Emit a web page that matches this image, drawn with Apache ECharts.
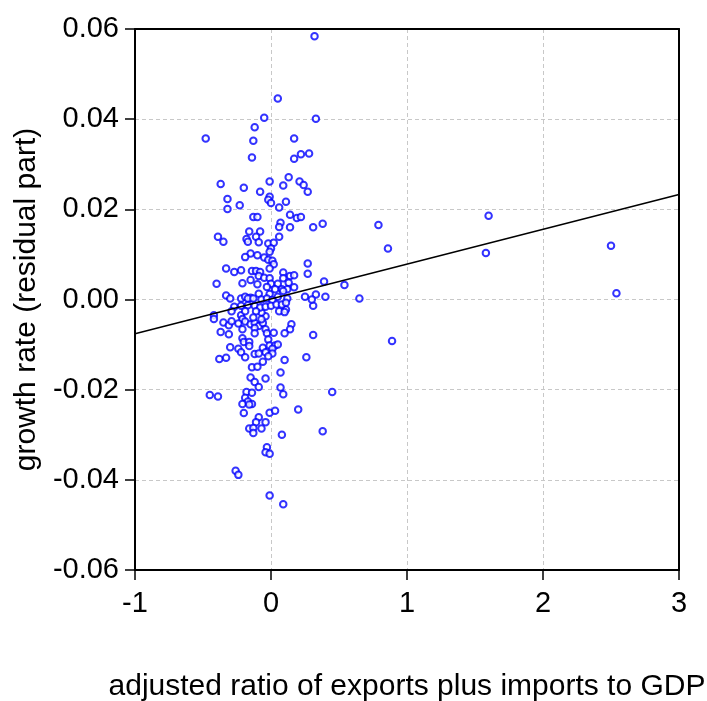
<!DOCTYPE html>
<html>
<head>
<meta charset="utf-8">
<script src="https://cdn.jsdelivr.net/npm/echarts@6/dist/echarts.min.js"></script>
<style>
  html, body { margin: 0; padding: 0; background: #fff; }
  #chart { width: 707px; height: 701px; }
</style>
</head>
<body>
<div id="chart"></div>
<script>
  'use strict'

  /* data */
  var xVals = [
    0.32, 0.05, -0.05, 0.33, -0.12, -0.48, -0.13, 0.17, -0.14, 0.17, 0.22, 0.28,
    -0.37, -0.20, -0.01, 0.09, 0.13, 0.21, 0.24, 0.27, -0.08, -0.32, -0.32, -0.23,
    -0.01, -0.02, 0.00, 0.11, 0.06, -0.13, -0.10, 0.14, 0.19, 0.22, 0.07, 0.06,
    0.14, 0.31, 0.38, -0.39, -0.35, -0.16, -0.08, -0.18, -0.17, -0.11, -0.09, 0.06,
    -0.02, 0.02, 0.00, -0.01, -0.15, -0.19, -0.10, -0.05, -0.02, 0.01, 0.02, -0.33,
    -0.27, -0.22, -0.14, -0.11, -0.08, -0.01, -0.09, 0.09, 0.14, 0.17, 0.27, 0.27,
    -0.40, -0.21, -0.15, -0.10, -0.05, -0.01, 0.00, -0.03, 0.09, 0.05, 0.13, 0.08,
    0.12, 0.17, 0.39, 0.54, -0.33, -0.30, -0.22, -0.19, -0.15, -0.09, -0.01, 0.05,
    0.12, 0.25, 0.33, 0.40, 0.31, -0.27, 0.11, 0.06, -0.04, -0.07, -0.42, -0.42,
    -0.29, -0.22, -0.21, -0.24, -0.35, -0.31, -0.19, -0.15, -0.12, -0.09, -0.06, -0.21,
    -0.12, -0.12, -0.04, -0.03, 0.02, 0.15, 0.14, 0.10, -0.37, -0.31, 0.31, -0.21,
    -0.20, -0.16, -0.02, -0.30, -0.24, -0.22, -0.16, -0.06, -0.01, 0.03, 0.05, 0.01,
    -0.04, 0.01, -0.12, -0.09, -0.02, -0.38, -0.33, -0.19, -0.06, 0.10, 0.26, -0.14,
    -0.10, 0.07, -0.15, -0.04, -0.12, -0.09, 0.07, 0.09, 0.45, -0.45, -0.39, -0.18,
    -0.14, -0.19, -0.17, -0.21, -0.14, -0.16, -0.20, -0.01, 0.03, 0.20, -0.09, -0.11,
    -0.04, -0.16, -0.13, -0.07, 0.38, -0.13, 0.08, -0.03, -0.04, -0.01, -0.26, -0.24,
    -0.01, 0.09, 0.79, 0.86, 0.30, 0.65, 0.89, 1.60, 1.58, 2.50, 2.54,
    0.03, 0.09, -0.17, -0.13, -0.07, -0.03, 0.01, -0.22, -0.17, -0.12, -0.08, -0.04,
    0.00, 0.04, 0.08, 0.11, -0.19, -0.11, 0.10, -0.29, -0.13, -0.07
  ];
  var yVals = [
    0.0584, 0.0446, 0.0403, 0.0401, 0.0382, 0.0357, 0.0352, 0.0357, 0.0315, 0.0312, 0.0322, 0.0324,
    0.0256, 0.0248, 0.0262, 0.0253, 0.0271, 0.0262, 0.0254, 0.0239, 0.0239, 0.0223, 0.0201, 0.0209,
    0.0228, 0.0221, 0.0214, 0.0217, 0.0204, 0.0183, 0.0183, 0.0188, 0.0181, 0.0183, 0.0170, 0.0161,
    0.0160, 0.0160, 0.0168, 0.0139, 0.0128, 0.0151, 0.0151, 0.0134, 0.0128, 0.0139, 0.0127, 0.0139,
    0.0124, 0.0126, 0.0113, 0.0106, 0.0102, 0.0094, 0.0098, 0.0093, 0.0088, 0.0086, 0.0078, 0.0069,
    0.0061, 0.0065, 0.0063, 0.0063, 0.0061, 0.0069, 0.0052, 0.0060, 0.0052, 0.0054, 0.0080, 0.0057,
    0.0035, 0.0036, 0.0043, 0.0034, 0.0048, 0.0047, 0.0035, 0.0028, 0.0047, 0.0035, 0.0037, 0.0023,
    0.0023, 0.0027, 0.0040, 0.0032, 0.0009, 0.0002, 0.0002, 0.0006, 0.0004, 0.0013, 0.0012, 0.0006,
    0.0002, 0.0006, 0.0011, 0.0006, -0.0014, -0.0016, -0.0022, -0.0026, -0.0037, -0.0029, -0.0035, -0.0043,
    -0.0026, -0.0035, -0.0043, -0.0053, -0.0051, -0.0057, -0.0049, -0.0055, -0.0052, -0.0059, -0.0052, -0.0066,
    -0.0063, -0.0075, -0.0066, -0.0075, -0.0074, -0.0055, -0.0066, -0.0075, -0.0072, -0.0077, -0.0079, -0.0086,
    -0.0094, -0.0094, -0.0089, -0.0106, -0.0109, -0.0117, -0.0103, -0.0107, -0.0102, -0.0102, -0.0100, -0.0109,
    -0.0117, -0.0120, -0.0121, -0.0120, -0.0126, -0.0132, -0.0129, -0.0128, -0.0138, -0.0134, -0.0128, -0.0150,
    -0.0149, -0.0162, -0.0173, -0.0175, -0.0183, -0.0194, -0.0195, -0.0210, -0.0205, -0.0212, -0.0215, -0.0205,
    -0.0207, -0.0218, -0.0226, -0.0232, -0.0232, -0.0233, -0.0252, -0.0251, -0.0247, -0.0244, -0.0261, -0.0272,
    -0.0272, -0.0286, -0.0285, -0.0286, -0.0292, -0.0296, -0.0300, -0.0328, -0.0339, -0.0342, -0.0380, -0.0389,
    -0.0435, -0.0454, 0.0165, 0.0113, 0.0000, 0.0002, -0.0092, 0.0186, 0.0103, 0.0119, 0.0014,
    0.0023, 0.0019, 0.0002, 0.0002, 0.0000, 0.0002, -0.0001, -0.0014, -0.0013, -0.0014, -0.0018, -0.0016,
    -0.0014, -0.0011, -0.0011, -0.0007, -0.0026, -0.0026, -0.0028, -0.0048, -0.0040, -0.0044
  ];

  /* fitted line end points */
  var fitX = [-1, 3];
  var fitY = [-0.0076, 0.0233];

  /* axis ticks */
  var xTicks = { min: -1, max: 3, step: 1 };
  var yTicks = { min: -0.06, max: 0.06, step: 0.02 };

  var points = xVals.map(function (x, i) { return [x, yVals[i]]; });
  var fitLine = fitX.map(function (x, i) { return [x, fitY[i]]; });

  var font = "'Liberation Sans', Arial, Helvetica, sans-serif";
  var frame = { show: true, onZero: false, lineStyle: { color: '#000', width: 2 } };
  var grid = { show: true, lineStyle: { color: '#c8c8c8', type: [4, 3], width: 1 } };

  var chart = echarts.init(document.getElementById('chart'), null, { renderer: 'canvas' });
  var option = {
    animation: false,
    backgroundColor: '#fff',
    grid: {
      left: 135,
      right: 28,
      top: 29,
      bottom: 131,
      containLabel: false,
      outerBoundsMode: 'none'
    },
    xAxis: [{
      type: 'value',
      min: xTicks.min,
      max: xTicks.max,
      interval: xTicks.step,
      name: 'adjusted ratio of exports plus imports to GDP',
      nameLocation: 'middle',
      nameGap: 102,
      nameTextStyle: { fontFamily: font, fontSize: 30, color: '#000' },
      axisLine: frame,
      axisTick: { show: true, inside: false, length: 10, lineStyle: { color: '#000', width: 1.5 } },
      axisLabel: {
        fontFamily: font, fontSize: 29, color: '#000', margin: 19,
        formatter: function (v) { return String(Math.round(v)); }
      },
      splitLine: grid
    }, {
      type: 'value',
      position: 'top',
      min: xTicks.min,
      max: xTicks.max,
      axisLine: frame,
      axisTick: { show: false },
      axisLabel: { show: false },
      splitLine: { show: false }
    }],
    yAxis: [{
      type: 'value',
      min: yTicks.min,
      max: yTicks.max,
      interval: yTicks.step,
      name: 'growth rate (residual part)',
      nameLocation: 'middle',
      nameGap: 90,
      nameTextStyle: { fontFamily: font, fontSize: 30, color: '#000' },
      axisLine: frame,
      axisTick: { show: true, inside: false, length: 10, lineStyle: { color: '#000', width: 1.5 } },
      axisLabel: {
        fontFamily: font, fontSize: 29, color: '#000', margin: 16,
        formatter: function (v) { return v.toFixed(2); }
      },
      splitLine: grid
    }, {
      type: 'value',
      position: 'right',
      min: yTicks.min,
      max: yTicks.max,
      axisLine: frame,
      axisTick: { show: false },
      axisLabel: { show: false },
      splitLine: { show: false }
    }],
    series: [
      {
        name: 'observations',
        type: 'scatter',
        xAxisIndex: 0,
        yAxisIndex: 0,
        data: points,
        symbol: 'circle',
        symbolSize: 6.5,
        itemStyle: { color: '#fff', borderColor: '#0000ff', borderWidth: 2 },
        z: 3
      },
      {
        name: 'fit',
        type: 'line',
        xAxisIndex: 0,
        yAxisIndex: 0,
        data: fitLine,
        symbol: 'none',
        lineStyle: { color: '#000', width: 1.5 },
        z: 4
      }
    ]
  };
  chart.setOption(option);
</script>
</body>
</html>
